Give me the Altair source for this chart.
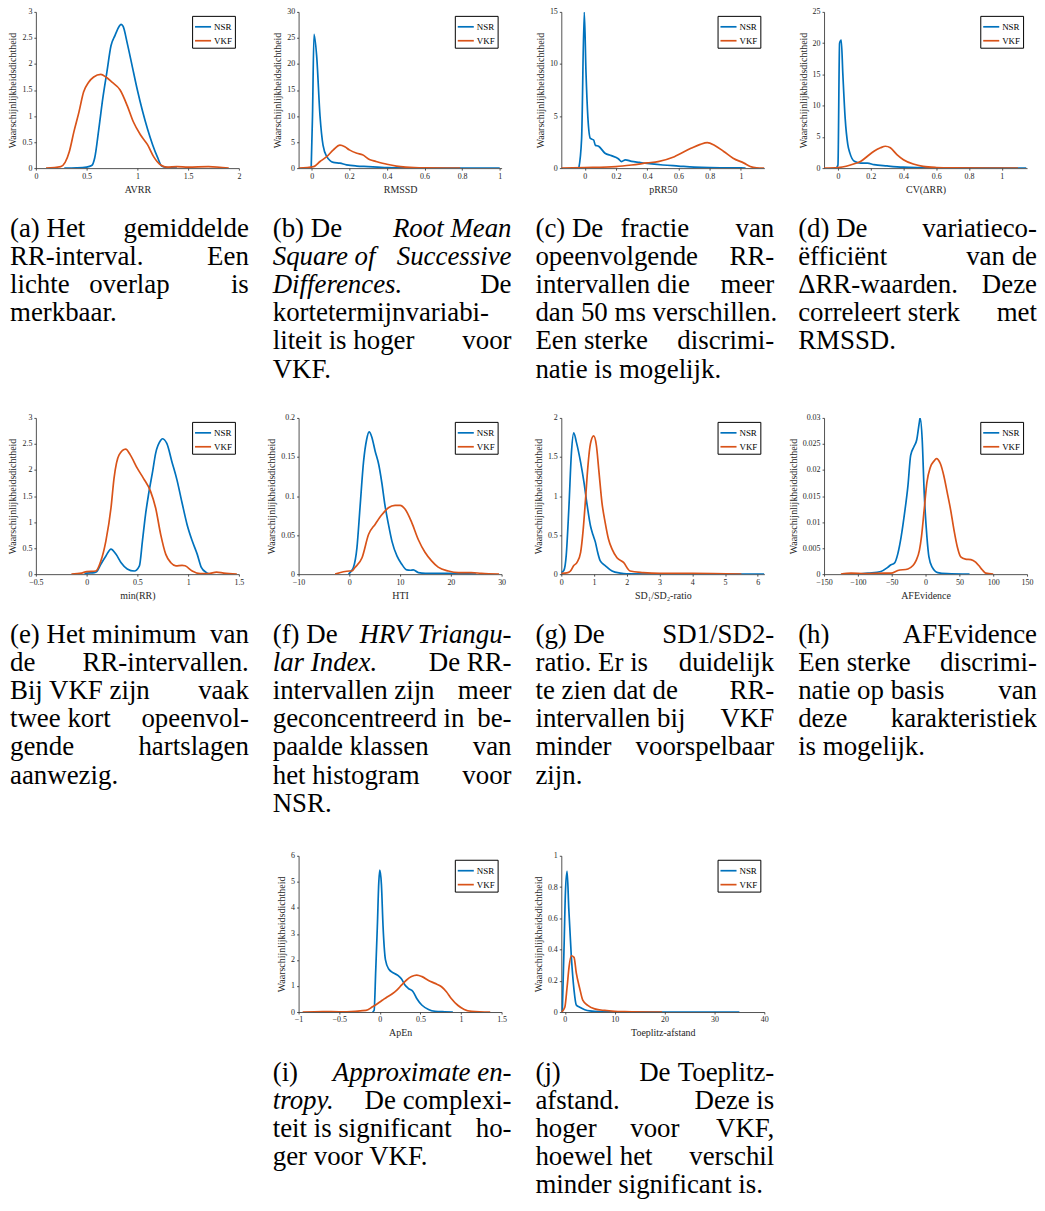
import altair as alt
import pandas as pd

BLUE = "#0072BD"
RED = "#D95319"
AXC = "#262626"
SERIF = "Liberation Serif"

# ---------------- data ----------------
# (a) AVRR
a_nsr_x = [0.28, 0.4, 0.5, 0.55, 0.58, 0.62, 0.66, 0.7, 0.74, 0.78, 0.82, 0.84, 0.86, 0.9, 0.95, 1.0, 1.05, 1.1, 1.15, 1.2, 1.24, 1.3, 1.39]
a_nsr_y = [0, 0.005, 0.02, 0.05, 0.2, 0.75, 1.35, 1.85, 2.35, 2.55, 2.72, 2.76, 2.72, 2.4, 1.95, 1.5, 1.1, 0.75, 0.45, 0.2, 0.04, 0.01, 0]
a_vkf_x = [0.1, 0.245, 0.33, 0.375, 0.425, 0.47, 0.52, 0.57, 0.64, 0.69, 0.75, 0.83, 0.9, 0.96, 1.03, 1.1, 1.16, 1.23, 1.29, 1.39, 1.5, 1.7, 1.9]
a_vkf_y = [0, 0.03, 0.32, 0.7, 1.08, 1.46, 1.65, 1.75, 1.8, 1.75, 1.65, 1.5, 1.2, 0.89, 0.64, 0.45, 0.22, 0.06, 0.02, 0.03, 0.02, 0.03, 0]
# (b) RMSSD
b_nsr_x = [-0.003, 0.004, 0.012, 0.026, 0.044, 0.06, 0.08, 0.115, 0.15, 0.185, 0.24, 0.3, 0.35, 0.4, 0.5, 0.7, 1.0]
b_nsr_y = [0, 10, 25.7, 21.6, 10, 4.4, 2.2, 1.1, 0.95, 0.63, 0.4, 0.3, 0.2, 0.08, 0.03, 0.01, 0]
b_vkf_x = [-0.07, 0.01, 0.044, 0.08, 0.115, 0.15, 0.176, 0.2, 0.24, 0.27, 0.31, 0.34, 0.4, 0.45, 0.5, 0.6, 0.79]
b_vkf_y = [0, 0.3, 1.27, 2.2, 3.5, 4.4, 4.1, 3.5, 2.85, 2.55, 1.6, 1.3, 0.75, 0.4, 0.2, 0.05, 0]
# (c) pRR50
c_nsr_x = [-0.038, -0.02, -0.003, 0.008, 0.02, 0.036, 0.057, 0.068, 0.089, 0.13, 0.17, 0.215, 0.236, 0.26, 0.3, 0.35, 0.4, 0.5, 0.6, 0.7, 0.8, 1.0, 1.03]
c_nsr_y = [0, 2.85, 15, 9.2, 4.9, 2.85, 2.7, 2.2, 2.1, 1.43, 1.2, 0.9, 0.63, 0.8, 0.65, 0.55, 0.45, 0.3, 0.2, 0.1, 0.05, 0.02, 0]
c_vkf_x = [-0.15, 0.0, 0.2, 0.3, 0.4, 0.47, 0.574, 0.68, 0.74, 0.785, 0.83, 0.89, 0.95, 1.02, 1.06, 1.1, 1.15]
c_vkf_y = [0, 0.05, 0.15, 0.3, 0.5, 0.63, 1.1, 1.9, 2.28, 2.44, 2.2, 1.6, 0.95, 0.48, 0.16, 0.03, 0]
# (d) CV(dRR)
d_nsr_x = [-0.01, 0.0, 0.01, 0.02, 0.03, 0.044, 0.06, 0.073, 0.1, 0.14, 0.18, 0.22, 0.3, 0.4, 0.5, 0.7, 1.15]
d_nsr_y = [0, 0.5, 20, 20.5, 15, 8, 3.8, 2.4, 1.1, 0.8, 0.8, 0.55, 0.35, 0.15, 0.08, 0.03, 0]
d_vkf_x = [-0.085, 0.0, 0.05, 0.1, 0.14, 0.18, 0.22, 0.26, 0.29, 0.32, 0.36, 0.4, 0.46, 0.52, 0.6, 0.7, 1.1]
d_vkf_y = [0, 0.1, 0.3, 0.7, 1.1, 1.9, 2.7, 3.25, 3.5, 3.25, 2.16, 1.35, 0.65, 0.27, 0.1, 0.04, 0]
# (e) min(RR)
e_nsr_x = [-0.02, 0.0, 0.076, 0.1, 0.14, 0.19, 0.24, 0.29, 0.34, 0.4, 0.47, 0.52, 0.55, 0.58, 0.61, 0.65, 0.68, 0.73, 0.745, 0.79, 0.84, 0.89, 0.94, 0.99, 1.04, 1.09, 1.13, 1.18, 1.22]
e_nsr_y = [0, 0.02, 0.03, 0.05, 0.19, 0.35, 0.48, 0.38, 0.22, 0.1, 0.06, 0.16, 0.64, 1.14, 1.53, 1.97, 2.32, 2.57, 2.6, 2.51, 2.16, 1.81, 1.37, 0.95, 0.64, 0.38, 0.13, 0.03, 0]
e_vkf_x = [-0.15, -0.05, 0.0, 0.09, 0.14, 0.19, 0.24, 0.27, 0.32, 0.385, 0.43, 0.5, 0.56, 0.63, 0.68, 0.73, 0.78, 0.83, 0.88, 0.94, 0.97, 1.04, 1.12, 1.2, 1.28, 1.35, 1.48]
e_vkf_y = [0, 0.02, 0.05, 0.06, 0.25, 0.64, 1.27, 1.84, 2.29, 2.4, 2.29, 2.03, 1.84, 1.59, 1.27, 0.76, 0.38, 0.22, 0.16, 0.17, 0.16, 0.06, 0.01, 0.01, 0.04, 0.02, 0]
# (f) HTI
f_nsr_x = [-0.16, 0.5, 0.8, 1.5, 2.1, 2.8, 3.4, 3.9, 4.4, 5.1, 5.8, 6.4, 7.0, 7.7, 8.4, 9.4, 10.3, 11.3, 12.0, 12.6, 13.6, 15, 20, 25]
f_nsr_y = [0, 0.005, 0.0085, 0.034, 0.085, 0.144, 0.172, 0.182, 0.176, 0.157, 0.14, 0.117, 0.089, 0.064, 0.042, 0.023, 0.013, 0.0055, 0.005, 0.0055, 0.002, 0.001, 0.001, 0]
f_vkf_x = [-2.8, 0.0, 0.5, 1.1, 2.5, 3.8, 5.1, 6.4, 7.7, 9.0, 10.0, 11.0, 12.3, 13.6, 14.9, 16.2, 17.5, 19.5, 21.5, 24, 26, 29.5]
f_vkf_y = [0, 0.004, 0.004, 0.0085, 0.021, 0.051, 0.064, 0.076, 0.085, 0.088, 0.088, 0.083, 0.066, 0.044, 0.028, 0.017, 0.009, 0.004, 0.002, 0.002, 0.001, 0]
# (g) SD1/SD2
g_nsr_x = [0.0, 0.08, 0.15, 0.23, 0.31, 0.38, 0.46, 0.59, 0.69, 0.79, 0.89, 0.97, 1.04, 1.11, 1.19, 1.34, 1.55, 1.8, 2.0, 3.0, 6.2]
g_nsr_y = [0.02, 0.05, 0.24, 0.84, 1.56, 1.81, 1.69, 1.43, 1.18, 0.88, 0.62, 0.5, 0.41, 0.28, 0.17, 0.11, 0.04, 0.013, 0.005, 0.002, 0]
g_vkf_x = [0.0, 0.2, 0.28, 0.38, 0.48, 0.59, 0.67, 0.74, 0.81, 0.89, 0.99, 1.07, 1.15, 1.24, 1.34, 1.44, 1.55, 1.7, 1.9, 2.1, 2.5, 3.0, 4.0, 5.5]
g_vkf_y = [0.01, 0.02, 0.04, 0.11, 0.15, 0.28, 0.58, 0.96, 1.37, 1.67, 1.77, 1.65, 1.31, 0.92, 0.66, 0.45, 0.32, 0.21, 0.15, 0.04, 0.02, 0.01, 0.01, 0]
# (h) AFEvidence
h_nsr_x = [-100, -85, -66, -56, -51, -46, -41, -36, -31, -26, -22, -17, -13, -9, -8, -5, -2, 2, 5, 10, 18, 32, 65]
h_nsr_y = [0, 0.0002, 0.0005, 0.0013, 0.0018, 0.0021, 0.0039, 0.0072, 0.0117, 0.017, 0.0228, 0.0245, 0.0258, 0.0293, 0.03, 0.026, 0.0157, 0.0072, 0.0033, 0.0013, 0.0003, 0.0001, 0]
h_vkf_x = [-125, -110, -90, -60, -51, -41, -26, -19, -14, -9, -6, -2, 2, 7, 13, 16, 22, 27, 32, 37, 42, 47, 52, 59, 67, 74, 79, 84, 89, 100]
h_vkf_y = [0, 0.0002, 0.0001, 0.0002, 0.0002, 0.0007, 0.001, 0.0016, 0.0026, 0.0046, 0.0072, 0.0124, 0.0176, 0.0205, 0.0218, 0.0222, 0.0212, 0.0189, 0.0157, 0.0124, 0.0085, 0.0052, 0.0033, 0.0029, 0.0028, 0.0023, 0.0016, 0.0008, 0.0002, 0]
# (i) ApEn
i_nsr_x = [-0.09, -0.07, -0.05, -0.03, -0.012, 0.0, 0.02, 0.04, 0.07, 0.11, 0.17, 0.23, 0.27, 0.31, 0.35, 0.41, 0.455, 0.52, 0.6, 0.68, 0.8, 0.9]
i_nsr_y = [0, 0.06, 1.6, 3.3, 5.0, 5.45, 4.9, 3.3, 2.0, 1.65, 1.5, 1.39, 1.26, 1.04, 0.91, 0.78, 0.52, 0.26, 0.1, 0.03, 0.01, 0]
i_vkf_x = [-0.95, -0.7, -0.5, -0.3, -0.17, -0.09, -0.03, 0.03, 0.09, 0.15, 0.21, 0.27, 0.33, 0.39, 0.455, 0.52, 0.6, 0.68, 0.76, 0.82, 0.88, 0.96, 1.04, 1.13, 1.36]
i_vkf_y = [0, 0.02, 0.01, 0.03, 0.06, 0.2, 0.32, 0.45, 0.58, 0.69, 0.84, 1.04, 1.23, 1.36, 1.42, 1.36, 1.21, 1.1, 0.97, 0.78, 0.52, 0.26, 0.1, 0.03, 0]
# (j) Toeplitz-afstand
j_nsr_x = [-0.5, -0.13, 0.13, 0.46, 0.8, 1.3, 1.85, 2.3, 3.0, 4.0, 5.0, 7.0, 10.0, 20.0, 35.0]
j_nsr_y = [0, 0.44, 0.77, 0.9, 0.66, 0.36, 0.14, 0.045, 0.03, 0.015, 0.007, 0.002, 0.001, 0.0, 0]
j_vkf_x = [-0.66, 0.0, 0.46, 0.86, 1.3, 1.85, 2.3, 3.0, 3.6, 4.6, 6.0, 8.0, 10.0, 12.0, 19.5]
j_vkf_y = [0, 0.03, 0.16, 0.29, 0.36, 0.35, 0.25, 0.15, 0.076, 0.043, 0.02, 0.01, 0.005, 0.003, 0]

# axis titles, domains and tick values
x_titles = {"a": "AVRR", "b": "RMSSD", "c": "pRR50", "d": "CV(ΔRR)", "e": "min(RR)",
            "f": "HTI", "g": "SD₁/SD₂-ratio", "h": "AFEvidence", "i": "ApEn", "j": "Toeplitz-afstand"}
x_domains = {"a": [0, 2], "b": [-0.07, 1.01], "c": [-0.15, 1.15], "d": [-0.085, 1.155], "e": [-0.5, 1.5],
             "f": [-10, 30], "g": [0, 6.2], "h": [-150, 150], "i": [-1, 1.5], "j": [-0.7, 40]}
x_ticks = {"a": [0, 0.5, 1, 1.5, 2], "b": [0, 0.2, 0.4, 0.6, 0.8, 1], "c": [0, 0.2, 0.4, 0.6, 0.8, 1],
           "d": [0, 0.2, 0.4, 0.6, 0.8, 1], "e": [-0.5, 0, 0.5, 1, 1.5], "f": [-10, 0, 10, 20, 30],
           "g": [0, 1, 2, 3, 4, 5, 6], "h": [-150, -100, -50, 0, 50, 100, 150],
           "i": [-1, -0.5, 0, 0.5, 1, 1.5], "j": [0, 10, 20, 30, 40]}
y_domains = {"a": [0, 3], "b": [0, 30], "c": [0, 15], "d": [0, 25], "e": [0, 3],
             "f": [0, 0.2], "g": [0, 2], "h": [0, 0.03], "i": [0, 6], "j": [0, 1]}
y_ticks = {"a": [0, 0.5, 1, 1.5, 2, 2.5, 3], "b": [0, 5, 10, 15, 20, 25, 30], "c": [0, 5, 10, 15],
           "d": [0, 5, 10, 15, 20, 25], "e": [0, 0.5, 1, 1.5, 2, 2.5, 3], "f": [0, 0.05, 0.1, 0.15, 0.2],
           "g": [0, 0.5, 1, 1.5, 2], "h": [0, 0.005, 0.01, 0.015, 0.02, 0.025, 0.03],
           "i": [0, 1, 2, 3, 4, 5, 6], "j": [0, 0.2, 0.4, 0.6, 0.8, 1]}
series = {
    "a": (a_nsr_x, a_nsr_y, a_vkf_x, a_vkf_y), "b": (b_nsr_x, b_nsr_y, b_vkf_x, b_vkf_y),
    "c": (c_nsr_x, c_nsr_y, c_vkf_x, c_vkf_y), "d": (d_nsr_x, d_nsr_y, d_vkf_x, d_vkf_y),
    "e": (e_nsr_x, e_nsr_y, e_vkf_x, e_vkf_y), "f": (f_nsr_x, f_nsr_y, f_vkf_x, f_vkf_y),
    "g": (g_nsr_x, g_nsr_y, g_vkf_x, g_vkf_y), "h": (h_nsr_x, h_nsr_y, h_vkf_x, h_vkf_y),
    "i": (i_nsr_x, i_nsr_y, i_vkf_x, i_vkf_y), "j": (j_nsr_x, j_nsr_y, j_vkf_x, j_vkf_y),
}
classes = ["NSR", "VKF"]

# captions: "|" separates left / (middle) / right parts of a justified line, *...* = italic
cap_a = ["(a) Het|gemiddelde", "RR-interval.|Een", "lichte|overlap|is", "merkbaar."]
cap_b = ["(b) De|*Root Mean*", "*Square of*|*Successive*", "*Differences.*|De", "kortetermijnvariabi-",
         "liteit is hoger|voor", "VKF."]
cap_c = ["(c) De|fractie|van", "opeenvolgende|RR-", "intervallen die|meer", "dan 50 ms verschillen.",
         "Een sterke|discrimi-", "natie is mogelijk."]
cap_d = ["(d) De|variatieco-", "ëfficiënt|van de", "ΔRR-waarden.|Deze", "correleert sterk|met", "RMSSD."]
cap_e = ["(e) Het minimum|van", "de|RR-intervallen.", "Bij VKF zijn|vaak", "twee kort|opeenvol-",
         "gende|hartslagen", "aanwezig."]
cap_f = ["(f) De|*HRV Triangu-*", "*lar Index.*|De RR-", "intervallen zijn|meer", "geconcentreerd in|be-",
         "paalde klassen|van", "het histogram|voor", "NSR."]
cap_g = ["(g) De|SD1/SD2-", "ratio. Er is|duidelijk", "te zien dat de|RR-", "intervallen bij|VKF",
         "minder|voorspelbaar", "zijn."]
cap_h = ["(h)|AFEvidence", "Een sterke|discrimi-", "natie op basis|van", "deze|karakteristiek", "is mogelijk."]
cap_i = ["(i)|*Approximate en-*", "*tropy.*|De complexi-", "teit is significant|ho-", "ger voor VKF."]
cap_j = ["(j)|De|Toeplitz-", "afstand.|Deze is", "hoger|voor|VKF,", "hoewel het|verschil",
         "minder significant is."]

# ---------------- layout constants ----------------
PW, PH = 204, 157
COL_GAP = 60
CAP_LEFT, CAP_RIGHT = -26, 214
CAP_FIRST, CAP_STEP = 69, 28.3
CAP_SIZE = 27


def plot(key):
    nx, ny, vx, vy = series[key]
    df = pd.concat([
        pd.DataFrame({"x": nx, "y": ny, "klasse": "NSR", "o": list(range(len(nx)))}),
        pd.DataFrame({"x": vx, "y": vy, "klasse": "VKF", "o": list(range(len(vx)))}),
    ])
    return alt.Chart(df).mark_line(strokeWidth=1.7, interpolate="monotone", clip=True).encode(
        x=alt.X("x:Q", title=x_titles[key],
                scale=alt.Scale(domain=x_domains[key], nice=False, zero=False),
                axis=alt.Axis(values=x_ticks[key], format=".6~g")),
        y=alt.Y("y:Q", title="Waarschijnlijkheidsdichtheid",
                scale=alt.Scale(domain=y_domains[key], nice=False),
                axis=alt.Axis(values=y_ticks[key], format=".6~g")),
        color=alt.Color("klasse:N", scale=alt.Scale(domain=classes, range=[BLUE, RED]),
                        legend=alt.Legend(title=None, orient="top-right", offset=4, padding=2,
                                          strokeColor="#000", fillColor="#fff", symbolType="stroke",
                                          symbolSize=260, symbolStrokeWidth=1.7, rowPadding=0,
                                          labelFont=SERIF, labelFontSize=9, labelColor="#000",
                                          labelOffset=2)),
        order="o:Q",
    ).properties(width=PW, height=PH)


def caption(lines, h):
    rows = []
    for i, line in enumerate(lines):
        segs = line.split("|")
        n = len(segs)
        for j, s in enumerate(segs):
            style = "italic" if s.startswith("*") else "normal"
            s = s.strip("*")
            anchor = "left" if j == 0 else ("right" if j == n - 1 else "center")
            rows.append({"line": i, "text": s, "anchor": anchor, "style": style})
    df = pd.DataFrame(rows)
    ysc = alt.Scale(domain=[0, 10], range=[CAP_FIRST, CAP_FIRST + 10 * CAP_STEP])
    xpos = {"left": CAP_LEFT, "center": (CAP_LEFT + CAP_RIGHT) / 2, "right": CAP_RIGHT}
    layers = []
    for anchor in ["left", "center", "right"]:
        for style in ["normal", "italic"]:
            sub = df[(df["anchor"] == anchor) & (df["style"] == style)]
            if len(sub) == 0:
                continue
            layers.append(alt.Chart(sub).mark_text(
                align=anchor, baseline="alphabetic", font=SERIF, fontSize=CAP_SIZE,
                fontStyle=style, color="#000").encode(
                x=alt.value(xpos[anchor]),
                y=alt.Y("line:Q", scale=ysc, axis=None),
                text="text:N"))
    return alt.layer(*layers).properties(width=PW, height=h)


def spacer(h):
    return alt.Chart(pd.DataFrame({"v": [0]})).mark_point(opacity=0).encode(
        x=alt.value(0), y=alt.value(0)).properties(width=PW, height=h)


cells = (
    [plot(k) for k in "abcd"]
    + [caption(cap_a, 251), caption(cap_b, 251), caption(cap_c, 251), caption(cap_d, 251)]
    + [plot(k) for k in "efgh"]
    + [caption(cap_e, 283), caption(cap_f, 283), caption(cap_g, 283), caption(cap_h, 283)]
    + [spacer(PH), plot("i"), plot("j"), spacer(PH)]
    + [spacer(180), caption(cap_i, 180), caption(cap_j, 180), spacer(180)]
)

chart = alt.concat(
    *cells, columns=4, spacing={"row": 0, "column": COL_GAP}, bounds="flush",
).properties(padding={"top": -3, "left": 0, "right": 0, "bottom": 0}).resolve_scale(
    x="independent", y="independent", color="independent"
).configure_view(strokeWidth=0).configure_axis(
    grid=False, domainColor=AXC, domainWidth=0.8, tickColor=AXC, tickSize=2, tickWidth=0.8,
    labelFont=SERIF, labelFontSize=8, labelColor=AXC, labelPadding=2, labelFlush=False,
    labelOverlap=False, titleFont=SERIF, titleFontSize=10, titleFontWeight="normal",
    titleColor=AXC, titlePadding=4,
)

chart.save("out.html", embed_options={"renderer": "svg", "actions": False})
